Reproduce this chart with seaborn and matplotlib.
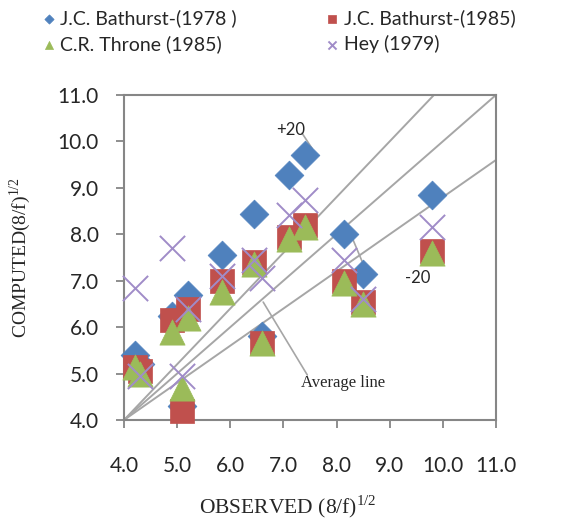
import numpy as np
import matplotlib
matplotlib.use("Agg")
import matplotlib.pyplot as plt
import seaborn as sns

# observed values (shared by all series)
observed = [4.2, 4.3, 4.9, 5.1, 5.2, 5.85, 6.45, 6.6, 7.1, 7.4, 8.15, 8.5, 9.8]

# computed values for each method
bathurst_1978 = [5.4, 5.2, 6.25, 4.3, 6.7, 7.55, 8.43, 5.8, 9.28, 9.7, 8.0, 7.15, 8.85]
bathurst_1985 = [5.15, 5.05, 6.15, 4.2, 6.4, 7.0, 7.4, 5.65, 7.95, 8.2, 7.0, 6.55, 7.65]
throne_1985 = [5.15, 5.0, 5.9, 4.7, 6.2, 6.75, 7.35, 5.65, 7.9, 8.15, 6.95, 6.5, 7.6]
hey_1979 = [6.85, 4.95, 7.7, 4.95, 6.4, 7.1, 7.45, 7.05, 8.42, 8.74, 7.45, 6.6, 8.16]

ticks = [4.0, 5.0, 6.0, 7.0, 8.0, 9.0, 10.0, 11.0]
tick_labels = ["4.0", "5.0", "6.0", "7.0", "8.0", "9.0", "10.0", "11.0"]

# reference lines from (4,4): +20%, average (1:1), -20%
line_slopes = [1.2, 1.0, 0.8]

sns.set_style("white")
plt.rcParams['font.family'] = ['Lato', 'DejaVu Sans']
plt.rcParams['mathtext.fontset'] = 'custom'
plt.rcParams['mathtext.rm'] = 'Liberation Serif'

fig = plt.figure(figsize=(5.61, 5.22), dpi=100)
ax = fig.add_axes([0.221, 0.1954, 0.663, 0.6226])

# reference lines
xs = np.array([4.0, 11.0])
for k in line_slopes:
    ax.plot(xs, 4.0 + k * (xs - 4.0), color="#A6A6A6", lw=1.4, zorder=1)

# series
sns.scatterplot(x=observed, y=bathurst_1978, marker="D", s=215, color="#4F81BD",
                edgecolor="#4F81BD", linewidth=0.5, label="J.C. Bathurst-(1978 )",
                ax=ax, zorder=3, clip_on=False)
sns.scatterplot(x=observed, y=bathurst_1985, marker="s", s=300, color="#C0504D",
                edgecolor="#C0504D", linewidth=0.5, label="J.C. Bathurst-(1985)",
                ax=ax, zorder=4, clip_on=False)
sns.scatterplot(x=observed, y=throne_1985, marker="^", s=330, color="#9BBB59",
                edgecolor="#9BBB59", linewidth=0.5, label="C.R. Throne (1985)",
                ax=ax, zorder=5, clip_on=False)
sns.scatterplot(x=observed, y=hey_1979, marker="x", s=330, color="#A08CC8",
                linewidth=1.4, label="Hey (1979)", ax=ax, zorder=6, clip_on=False)

# annotations
ax.text(7.13, 10.24, "+20", fontsize=12, ha="center", va="center")
ax.plot([7.35, 7.54], [10.18, 9.85], color="#A6A6A6", lw=1.2, zorder=2)
ax.text(9.52, 7.05, "-20", fontsize=12, ha="center", va="center")
ax.plot([8.26, 8.48], [8.02, 7.42], color="#A6A6A6", lw=1.2, zorder=2)
ax.text(8.12, 4.8, "Average line", fontsize=12, ha="center", va="center",
        family="Liberation Serif")
ax.plot([6.62, 7.45], [6.54, 4.97], color="#A6A6A6", lw=1.2, zorder=2)

ax.set_xlim(4.0, 11.0)
ax.set_ylim(4.0, 11.0)
ax.set_xticks(ticks)
ax.set_xticklabels(tick_labels)
ax.set_yticks(ticks)
ax.set_yticklabels(tick_labels)
ax.tick_params(axis="both", direction="out", length=6, width=1.3, color="#868686",
               labelsize=15, pad=4, bottom=True, left=True)
ax.tick_params(axis="x", pad=20)
ax.tick_params(axis="y", pad=12)
for sp in ax.spines.values():
    sp.set_color("#868686")
    sp.set_linewidth(1.5)

ax.set_xlabel("OBSERVED (8/f)$^{\\mathregular{1/2}}$", family="Liberation Serif",
              fontsize=15.5)
ax.set_ylabel("COMPUTED(8/f)$^{\\mathregular{1/2}}$", family="Liberation Serif",
              fontsize=14)
ax.xaxis.set_label_coords(0.44, -0.225)
ax.yaxis.set_label_coords(-0.245, 0.5)

# legend laid out row-wise above the plot
handles, labels = ax.get_legend_handles_labels()
ax.get_legend().remove()
order = [0, 2, 1, 3]
fig.legend([handles[i] for i in order], [labels[i] for i in order],
           loc="upper left", bbox_to_anchor=(0.035, 1.015), ncol=2, frameon=False,
           fontsize=14, markerscale=0.32, handletextpad=0.0, handlelength=1.2,
           columnspacing=4.3, labelspacing=0.4)

fig.savefig("out.png", dpi=100)
